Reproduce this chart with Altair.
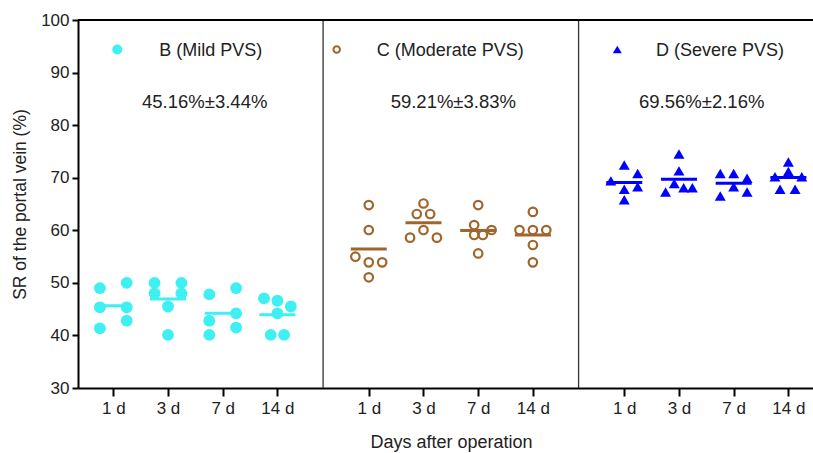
import altair as alt
import pandas as pd

# ---------------- data ----------------
days = ["1 d", "3 d", "7 d", "14 d"]
groups = ["B (Mild PVS)", "C (Moderate PVS)", "D (Severe PVS)"]
stats = ["45.16%±3.44%", "59.21%±3.83%", "69.56%±2.16%"]

# SR values (%) per group, per day (6 animals each)
b_values = [
    [49.0, 45.35, 41.35, 50.0, 45.35, 42.8],
    [50.0, 48.0, 50.0, 48.0, 45.5, 40.1],
    [47.8, 42.8, 40.1, 49.0, 44.2, 41.5],
    [47.06, 46.6, 44.2, 45.5, 40.1, 40.1],
]
c_values = [
    [64.8, 60.05, 53.9, 51.06, 54.98, 53.9],
    [65.1, 60.05, 63.1, 63.1, 58.6, 58.6],
    [64.8, 55.6, 61.0, 59.1, 59.1, 60.05],
    [63.5, 60.05, 57.2, 53.9, 60.05, 60.05],
]
d_values = [
    [72.4, 67.8, 65.8, 69.4, 70.8, 68.3],
    [74.5, 71.3, 68.9, 67.3, 68.1, 68.1],
    [70.8, 66.5, 70.8, 68.3, 69.9, 67.3],
    [73.0, 71.2, 70.2, 70.2, 67.8, 67.8],
]
# dot-plot column slot of each point (scatter spread within a day column)
b_slots = [
    [-2, -2, -2, 2, 2, 2],
    [-2, -2, 2, 2, 0, 0],
    [-2, -2, -2, 2, 2, 2],
    [-2, 0, 0, 2, -1, 1],
]
c_slots = [
    [0, 0, 0, 0, -2, 2],
    [0, 0, -1, 1, -2, 2],
    [0, 0, -0.6, -0.6, 0.7, 2],
    [0, 0, 0, 0, -2, 2],
]
d_slots = [
    [0, 0, 0, -2, 2, 2],
    [0, 0, -0.7, -2, 0.7, 2],
    [-2, -2, 0, 0, 2, 2],
    [0, 0, -2, 2, -1.24, 1],
]

all_values = [b_values, c_values, d_values]
all_slots = [b_slots, c_slots, d_slots]

# ---------------- layout of the category axis ----------------
GROUP_STEP = 4.67   # distance between first day of consecutive groups
SLOT_W = 0.1225     # width of one scatter slot (in day units)

rows = []
for gi, g in enumerate(groups):
    for di, d in enumerate(days):
        for v, s in zip(all_values[gi][di], all_slots[gi][di]):
            center = gi * GROUP_STEP + di
            rows.append({"group": g, "day": d, "center": center,
                         "pos": center + s * SLOT_W, "value": v})
df = pd.DataFrame(rows)

tick_positions = [gi * GROUP_STEP + di for gi in range(len(groups)) for di in range(len(days))]
sep_df = pd.DataFrame({"sep": [(3 + GROUP_STEP) / 2, GROUP_STEP + (3 + GROUP_STEP) / 2]})

colors = ["#3ef0f2", "#a0652c", "#0000ff"]
FONT = "Liberation Sans"
W, H = 735, 368

x_scale = alt.Scale(domain=[-0.645, 12.79], nice=False, zero=False)
y_scale = alt.Scale(domain=[30, 100], nice=False, zero=False)

label_expr = ("['" + "','".join(days) + "'][round(datum.value - %s*floor((datum.value+0.5)/%s))]"
              % (GROUP_STEP, GROUP_STEP))

x_axis = alt.Axis(values=tick_positions, labelExpr=label_expr, title="Days after operation",
                  grid=False, domainColor="black", domainWidth=2, tickColor="black",
                  tickWidth=2, tickSize=8, labelPadding=4, labelFontSize=17,
                  labelFont=FONT, labelColor="#222", titleFont=FONT, titleFontSize=18,
                  titleFontWeight="normal", titleColor="#222", titlePadding=17,
                  titleX=373, labelFlush=False)
y_axis = alt.Axis(values=list(range(30, 101, 10)), title="SR of the portal vein (%)",
                  grid=False, domainColor="black", domainWidth=2, tickColor="black",
                  tickWidth=2, tickSize=6, labelPadding=3, labelFontSize=17,
                  labelFont=FONT, labelColor="#222", titleFont=FONT, titleFontSize=17.5,
                  titleFontWeight="normal", titleColor="#222", titlePadding=11)

X = alt.X("pos:Q", scale=x_scale, axis=x_axis)
Y = alt.Y("value:Q", scale=y_scale, axis=y_axis)

layers = []

# panel separators
layers.append(
    alt.Chart(sep_df).mark_rule(color="#333", strokeWidth=1.3).encode(
        x=alt.X("sep:Q", scale=x_scale, axis=x_axis),
        y=alt.value(0), y2=alt.value(H))
)
# top frame line
layers.append(
    alt.Chart(sep_df).mark_rule(color="black", strokeWidth=2).encode(
        x=alt.value(0), x2=alt.value(W), y=alt.value(0))
)

marker_defs = [
    dict(shape="circle", filled=True, size=140, strokeWidth=0),
    dict(shape="circle", filled=False, size=72, strokeWidth=2.2),
    dict(shape="triangle-up", filled=True, size=120, strokeWidth=0),
]
legend_marker_defs = [
    dict(shape="circle", filled=True, size=100, strokeWidth=0),
    dict(shape="circle", filled=False, size=42, strokeWidth=2),
    dict(shape="triangle-up", filled=True, size=80, strokeWidth=0),
]
legend_layout = [  # (marker x, label left x, stats center x) in plot pixels
    (39.3, 81.3, 126.7),
    (258.7, 298.7, 375.3),
    (539.3, 578.0, 623.7),
]

for gi, g in enumerate(groups):
    sub = df[df["group"] == g]
    col = colors[gi]
    m = marker_defs[gi]
    layers.append(
        alt.Chart(sub).mark_point(shape=m["shape"], filled=m["filled"], size=m["size"],
                                  strokeWidth=m["strokeWidth"], color=col, opacity=1)
        .encode(x=X, y=Y)
    )
    layers.append(
        alt.Chart(sub).transform_aggregate(
            mean="mean(value)", groupby=["center"]
        ).mark_tick(orient="horizontal", size=36, thickness=3, color=col, opacity=1)
        .encode(x=alt.X("center:Q", scale=x_scale, axis=x_axis),
                y=alt.Y("mean:Q", scale=y_scale, axis=y_axis))
    )
    ann = pd.DataFrame({"label": [g], "stat": [stats[gi]]})
    mx, lx, sx = legend_layout[gi]
    lm = legend_marker_defs[gi]
    layers.append(
        alt.Chart(ann).mark_point(shape=lm["shape"], filled=lm["filled"], size=lm["size"],
                                  strokeWidth=lm["strokeWidth"], color=col, opacity=1)
        .encode(x=alt.value(mx), y=alt.value(29.5))
    )
    layers.append(
        alt.Chart(ann).mark_text(align="left", baseline="middle", font=FONT, fontSize=18,
                                 color="#222")
        .encode(x=alt.value(lx), y=alt.value(30.7), text="label:N")
    )
    layers.append(
        alt.Chart(ann).mark_text(align="center", baseline="middle", font=FONT, fontSize=18.5,
                                 color="#222")
        .encode(x=alt.value(sx), y=alt.value(81.7), text="stat:N")
    )

chart = alt.layer(*layers).properties(
    width=W, height=H,
    padding={"left": 78, "top": 20, "right": 0, "bottom": 65},
    autosize=alt.AutoSizeParams(type="none"),
    background="white",
).configure_view(stroke=None)

chart.save("out.html", embed_options={"renderer": "svg", "actions": False})
